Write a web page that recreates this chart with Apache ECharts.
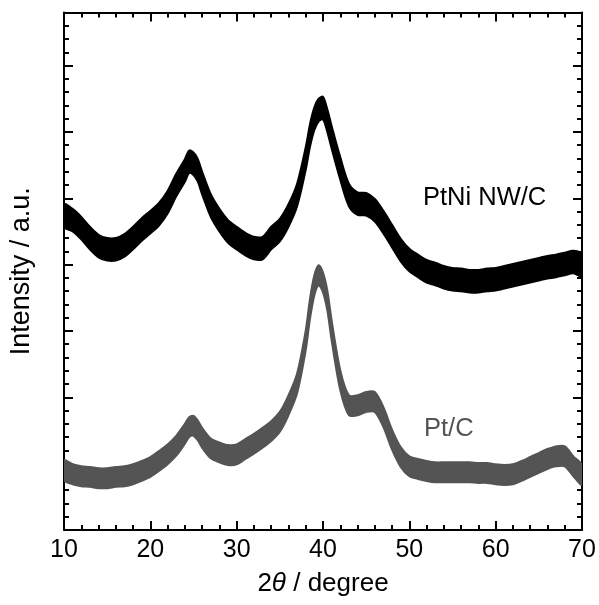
<!DOCTYPE html>
<html>
<head>
<meta charset="utf-8">
<script src="https://cdn.jsdelivr.net/npm/echarts@6/dist/echarts.min.js"></script>
<style>html,body{margin:0;padding:0;background:#fff}#c{width:599px;height:605px}</style>
</head>
<body>
<div id="c"></div>
<script>
// 2theta positions (degree)
const angles = [10,11,12,13,14,15,16,17,18,19,20,21,22,23,24,24.5,25,25.5,26,27,28,29,30,31,32,33,34,35,36,37,38,38.5,39,39.5,40,40.5,41,42,43,44,45,46,47,48,49,50,51,52,53,54,55,56,57,58,59,60,61,62,63,64,65,66,67,68,69,70];
// PtNi NW/C noisy band: upper and lower envelopes (a.u.)
const ptniTop = [4.91,4.84,4.72,4.57,4.45,4.40,4.40,4.46,4.57,4.70,4.81,4.93,5.11,5.37,5.59,5.72,5.69,5.59,5.40,5.06,4.84,4.67,4.57,4.48,4.42,4.42,4.57,4.69,4.91,5.22,5.77,6.12,6.37,6.50,6.53,6.34,6.09,5.62,5.22,5.09,5.08,4.99,4.81,4.60,4.39,4.24,4.15,4.07,4.03,3.98,3.95,3.94,3.92,3.92,3.94,3.95,3.98,4.01,4.04,4.07,4.10,4.13,4.15,4.18,4.21,4.16];
const ptniBottom = [4.57,4.50,4.38,4.23,4.11,4.06,4.06,4.12,4.23,4.36,4.47,4.59,4.77,5.03,5.25,5.38,5.35,5.25,5.06,4.72,4.50,4.33,4.23,4.14,4.08,4.08,4.23,4.35,4.57,4.88,5.43,5.78,6.03,6.16,6.19,6.00,5.75,5.28,4.88,4.75,4.74,4.65,4.47,4.26,4.05,3.90,3.81,3.73,3.69,3.64,3.61,3.60,3.58,3.58,3.60,3.61,3.64,3.67,3.70,3.73,3.76,3.79,3.81,3.84,3.87,3.82];
// Pt/C noisy band: upper and lower envelopes (a.u.)
const ptcTop = [1.05,0.99,0.96,0.95,0.93,0.93,0.95,0.96,0.99,1.04,1.10,1.19,1.29,1.42,1.60,1.70,1.72,1.65,1.54,1.38,1.32,1.28,1.29,1.37,1.45,1.54,1.64,1.78,2.03,2.36,3.01,3.49,3.84,3.99,3.88,3.61,3.16,2.41,2.03,2.03,2.08,2.08,1.85,1.51,1.25,1.11,1.07,1.04,1.02,1.02,1.02,1.02,1.02,1.01,1.01,0.99,0.98,0.99,1.04,1.10,1.16,1.22,1.26,1.26,1.11,0.98];
const ptcBottom = [0.75,0.69,0.66,0.65,0.63,0.63,0.65,0.66,0.69,0.74,0.80,0.89,0.99,1.12,1.30,1.40,1.42,1.35,1.24,1.08,1.02,0.98,0.99,1.07,1.15,1.24,1.34,1.48,1.73,2.06,2.71,3.19,3.54,3.69,3.58,3.31,2.86,2.11,1.73,1.73,1.78,1.78,1.55,1.21,0.95,0.81,0.77,0.74,0.72,0.72,0.72,0.72,0.72,0.71,0.71,0.69,0.68,0.69,0.74,0.80,0.86,0.92,0.96,0.96,0.81,0.68];
const xTicks = [10,20,30,40,50,60,70];
const seriesNames = ['PtNi NW/C','Pt/C'];
const seriesColors = ['#000000','#545454'];

const FONT = '"Liberation Sans", Arial, Helvetica, sans-serif';
const chart = echarts.init(document.getElementById('c'), null, {renderer:'canvas'});

function bandSeries(name, top, bottom, color) {
  const data = angles.map((a,i)=>[a, top[i], bottom[i]]);
  return {
    type:'custom', name:name, data:data, clip:true, silent:true, z:3,
    encode:{x:0, y:[1,2]},
    renderItem:function(params, api){
      if (params.dataIndex !== 0) return null;
      const upper = data.map(d=>api.coord([d[0], d[1]]));
      const lower = data.map(d=>api.coord([d[0], d[2]]));
      return {
        type:'polygon',
        shape:{points:upper.concat(lower.slice().reverse()), smooth:0.3},
        style:{fill:color, stroke:color, lineWidth:2, lineJoin:'round'}
      };
    }
  };
}

const axisCommon = {
  axisLine:{show:true,onZero:false,lineStyle:{color:'#000',width:2}},
  axisTick:{show:true,inside:true,length:9,lineStyle:{color:'#000',width:2}},
  minorTick:{show:true,splitNumber:5,length:5,lineStyle:{color:'#000',width:2}},
  splitLine:{show:false}
};

chart.setOption({
  animation:false,
  backgroundColor:'#fff',
  grid:{left:64,right:17,top:12.5,bottom:75,containLabel:false},
  xAxis:[
    Object.assign({type:'value',min:10,max:70,interval:10,position:'bottom',
      axisLabel:{show:true,color:'#000',fontSize:25,fontFamily:FONT,margin:8,
        formatter:v=>xTicks.includes(v)?String(v):''},
      name:'{a|2}{b|θ}{a| / degree}',nameLocation:'middle',nameGap:41,
      nameTextStyle:{rich:{a:{fontSize:26,fontFamily:FONT,color:'#000'},b:{fontSize:26,fontFamily:FONT,fontStyle:'italic',color:'#000'}}}
    },axisCommon),
    Object.assign({type:'value',min:10,max:70,interval:10,position:'top',axisLabel:{show:false}},axisCommon)
  ],
  yAxis:[
    Object.assign({type:'value',min:0,max:7.8,interval:1,position:'left',axisLabel:{show:false},
      name:'Intensity / a.u.',nameLocation:'middle',nameGap:29,
      nameTextStyle:{fontSize:27,fontFamily:FONT,color:'#000'}},axisCommon),
    Object.assign({type:'value',min:0,max:7.8,interval:1,position:'right',axisLabel:{show:false}},axisCommon)
  ],
  series:[
    bandSeries(seriesNames[0], ptniTop, ptniBottom, seriesColors[0]),
    bandSeries(seriesNames[1], ptcTop, ptcBottom, seriesColors[1])
  ],
  graphic:[
    {type:'text',left:423,top:185,style:{text:seriesNames[0],fontSize:25.5,fontFamily:FONT,fill:seriesColors[0]}},
    {type:'text',left:424,top:416,style:{text:seriesNames[1],fontSize:25.5,fontFamily:FONT,fill:seriesColors[1]}}
  ]
});
</script>
</body>
</html>
